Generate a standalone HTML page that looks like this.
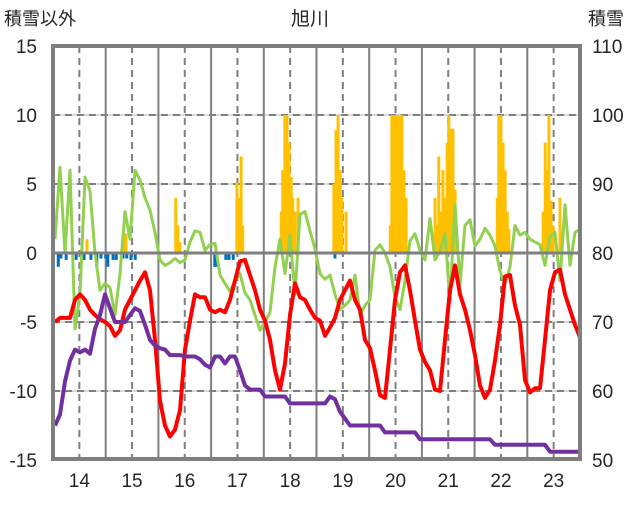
<!DOCTYPE html>
<html><head><meta charset="utf-8"><style>
body{margin:0;background:#fff;}
svg text{font-family:"Liberation Sans","Noto Sans CJK JP",sans-serif;fill:#262626;}
</style></head><body>
<svg id="chart" width="636" height="501" viewBox="0 0 636 501" xmlns="http://www.w3.org/2000/svg">
<text x="310" y="25" font-size="19" text-anchor="middle">旭川</text>
<text x="4" y="25" font-size="18">積雪以外</text>
<text x="588" y="25" font-size="18">積雪</text>
<g id="grid"></g>
<g id="bars"></g>
<g id="lines"></g>
<g id="axes"></g>
</svg>
<script>
const leftTicks = [15,10,5,0,-5,-10,-15];
const rightTicks = [110,100,90,80,70,60,50];
const yearLabels = [14,15,16,17,18,19,20,21,22,23];
const redValues = [-5.0,-4.7,-4.7,-4.7,-3.4,-3.0,-3.4,-4.1,-4.5,-4.8,-5.0,-5.3,-6.0,-5.6,-4.1,-3.4,-2.7,-2.0,-1.4,-2.7,-6.3,-10.7,-12.5,-13.3,-12.8,-11.4,-7.0,-4.9,-3.0,-3.2,-3.2,-4.1,-4.3,-4.1,-4.3,-3.4,-2.0,-0.6,-0.5,-1.6,-2.7,-4.1,-4.9,-6.3,-8.5,-9.9,-8.0,-4.5,-2.2,-3.2,-3.4,-4.1,-4.7,-4.9,-6.0,-5.4,-4.7,-3.4,-2.7,-2.0,-3.4,-4.1,-6.3,-6.9,-8.5,-10.3,-10.5,-7.0,-3.4,-1.4,-0.9,-2.7,-4.9,-7.0,-7.9,-8.5,-9.9,-10.0,-6.3,-2.7,-0.9,-3.0,-4.1,-5.6,-7.4,-9.6,-10.5,-9.9,-7.8,-5.2,-1.7,-1.6,-3.8,-5.2,-9.2,-10.1,-9.8,-9.8,-6.3,-2.7,-1.4,-1.2,-3.0,-4.1,-5.2,-6.1];
const greenValues = [1.0,6.2,0.0,6.0,-5.5,-3.0,5.5,4.5,0.0,-2.7,-2.2,-2.5,-4.5,-1.5,3.0,1.0,6.0,5.3,4.0,3.1,1.5,-0.5,-0.9,-0.7,-0.4,-0.7,-0.5,0.8,1.6,1.5,0.2,0.6,0.7,-1.6,-2.2,-2.8,-2.0,-1.5,-2.9,-3.4,-4.5,-5.6,-5.0,-4.3,-1.0,1.0,-1.5,1.3,-3.0,2.8,3.0,1.6,0.3,-1.5,-1.9,-1.6,-3.0,-4.1,-3.8,-3.4,-1.6,-4.5,-3.8,-3.4,0.2,0.6,0.0,-1.0,-3.2,-4.1,-2.0,0.9,1.4,0.2,-0.5,2.5,-0.5,0.1,1.4,-3.5,3.5,-2.3,2.0,2.4,0.5,1.0,1.8,1.3,0.5,-1.3,-2.3,-1.0,2.0,1.3,1.5,1.0,0.8,0.6,-0.9,1.2,1.5,-2.0,3.5,-0.9,1.5,1.7];
const purpleValues = [-12.5,-11.7,-9.3,-7.8,-7.0,-7.2,-7.0,-7.3,-5.5,-4.5,-3.0,-4.0,-5.0,-5.0,-5.0,-4.5,-4.0,-4.2,-5.2,-6.3,-6.7,-6.9,-7.0,-7.4,-7.4,-7.4,-7.5,-7.5,-7.5,-7.7,-8.1,-8.3,-7.5,-7.5,-8.0,-7.5,-7.5,-8.5,-9.6,-9.9,-9.9,-9.9,-10.4,-10.4,-10.4,-10.4,-10.4,-10.9,-10.9,-10.9,-10.9,-10.9,-10.9,-10.9,-10.9,-10.4,-10.6,-11.5,-12.0,-12.5,-12.5,-12.5,-12.5,-12.5,-12.5,-12.5,-13.0,-13.0,-13.0,-13.0,-13.0,-13.0,-13.0,-13.5,-13.5,-13.5,-13.5,-13.5,-13.5,-13.5,-13.5,-13.5,-13.5,-13.5,-13.5,-13.5,-13.5,-13.5,-13.9,-13.9,-13.9,-13.9,-13.9,-13.9,-13.9,-13.9,-13.9,-13.9,-13.9,-14.4,-14.4,-14.4,-14.4,-14.4,-14.4,-14.4];
const orangeDates = [14.145,14.85,14.885,15.83,15.87,15.91,16.99,17.03,17.07,17.10,17.83,17.86,17.90,17.94,17.98,18.02,18.05,18.09,18.15,18.83,18.87,18.91,18.95,18.98,19.06,19.90,19.93,19.97,20.01,20.05,20.08,20.12,20.16,20.20,20.75,20.79,20.82,20.86,20.90,20.94,20.98,21.01,21.05,21.09,21.13,21.93,21.96,22.00,22.04,22.08,22.12,22.15,22.80,22.84,22.87,22.91,22.95,22.99,23.12];
const orangeValues = [1.0,1.4,1.4,4.0,2.0,0.8,5.1,4.0,7.0,2.0,3,6,10,10,8,5.5,4,3,4,5,8.9,10,6,4,3,2,10,10,10,10,10,10,6,4,4,2,7,3,6,4,8,10,9,9,4.6,4,10,10,8,6,3,1.7,3,8,6,10,3.8,2,4];
const blueDates = [13.60,13.65,13.75,13.94,14.09,14.22,14.33,14.41,14.50,14.54,14.64,14.70,14.83,14.90,14.98,15.06,16.57,16.61,16.78,16.84,16.92,18.85];
const blueValues = [-1,-0.4,-0.5,-0.5,-0.5,-0.5,-1,-0.4,-0.4,-1,-0.5,-0.5,-0.4,-0.4,-0.5,-0.5,-1,-1,-0.5,-0.5,-0.5,-0.4];

const L=53,R=580,T=46,B=459;
const yL = v => 253 - v*13.8;
const xYear = t => L + (t-13.5)*(R-L)/10;
const xIdx = (i,n) => 55 + i*(525/(n-1));
const NS="http://www.w3.org/2000/svg";
function mk(tag, attrs, parent){const e=document.createElementNS(NS,tag);for(const k in attrs)e.setAttribute(k,attrs[k]);parent.appendChild(e);return e;}
const grid=document.getElementById('grid'),bars=document.getElementById('bars'),lines=document.getElementById('lines'),axes=document.getElementById('axes');

leftTicks.forEach((v,i)=>{
  const y=yL(v);
  if(v!==0 && v!==15 && v!==-15){
    const g=mk('line',{x1:L,x2:R,y1:y,y2:y,stroke:'#d9d9d9','stroke-width':2},grid);
    
    
    const d=mk('line',{x1:L,x2:R,y1:y,y2:y,stroke:'#7f7f7f','stroke-width':2,'stroke-dasharray':'7,5'},grid);
    
    
  }
  const t=mk('text',{x:37,y:y+7,'font-size':19,'text-anchor':'end'},axes);
  t.textContent=v;
  
  
  const r=mk('text',{x:592,y:y+7,'font-size':19},axes);
  r.textContent=rightTicks[i];
  
  
});
yearLabels.forEach(yr=>{
  const x=xYear(yr);
  const d=mk('line',{x1:x,x2:x,y1:T,y2:B,stroke:'#7f7f7f','stroke-width':2,'stroke-dasharray':'7,5'},grid);
  
  
  const xs=xYear(yr-0.5);
  if(xs>L+2){
    const s=mk('line',{x1:xs,x2:xs,y1:T,y2:B,stroke:'#7f7f7f','stroke-width':2},grid);
    
    
  }
  const t=mk('text',{x:x,y:487,'font-size':19,'text-anchor':'middle'},axes);
  t.textContent=yr;
  
  
});
orangeDates.forEach((d,i)=>{
  const y=yL(orangeValues[i]);
  const b=mk('rect',{x:xYear(d)-1.5,y:y,width:3,height:yL(0)-y,fill:'#FFC000'},bars);
  
  
});
blueDates.forEach((d,i)=>{
  const b=mk('rect',{x:xYear(d)-1.5,y:yL(0),width:3,height:yL(blueValues[i])-yL(0),fill:'#0070C0'},bars);
  
  
});
function series(vals,color,w,name){
  const pts=vals.map((v,i)=>xIdx(i,vals.length).toFixed(1)+','+yL(v).toFixed(1)).join(' ');
  const p=mk('polyline',{points:pts,fill:'none',stroke:color,'stroke-width':w,'stroke-linejoin':'round'},lines);
  
  
}
series(greenValues,'#92D050',3,'green-series-line');
series(redValues,'#FF0000',4,'red-series-line');
series(purpleValues,'#7030A0',4,'purple-series-line');
const z=mk('line',{x1:L,x2:R,y1:yL(0),y2:yL(0),stroke:'#7f7f7f','stroke-width':3},axes);


const f=mk('rect',{x:L,y:T,width:R-L,height:B-T,fill:'none',stroke:'#7f7f7f','stroke-width':4},axes);


</script>
</body></html>
